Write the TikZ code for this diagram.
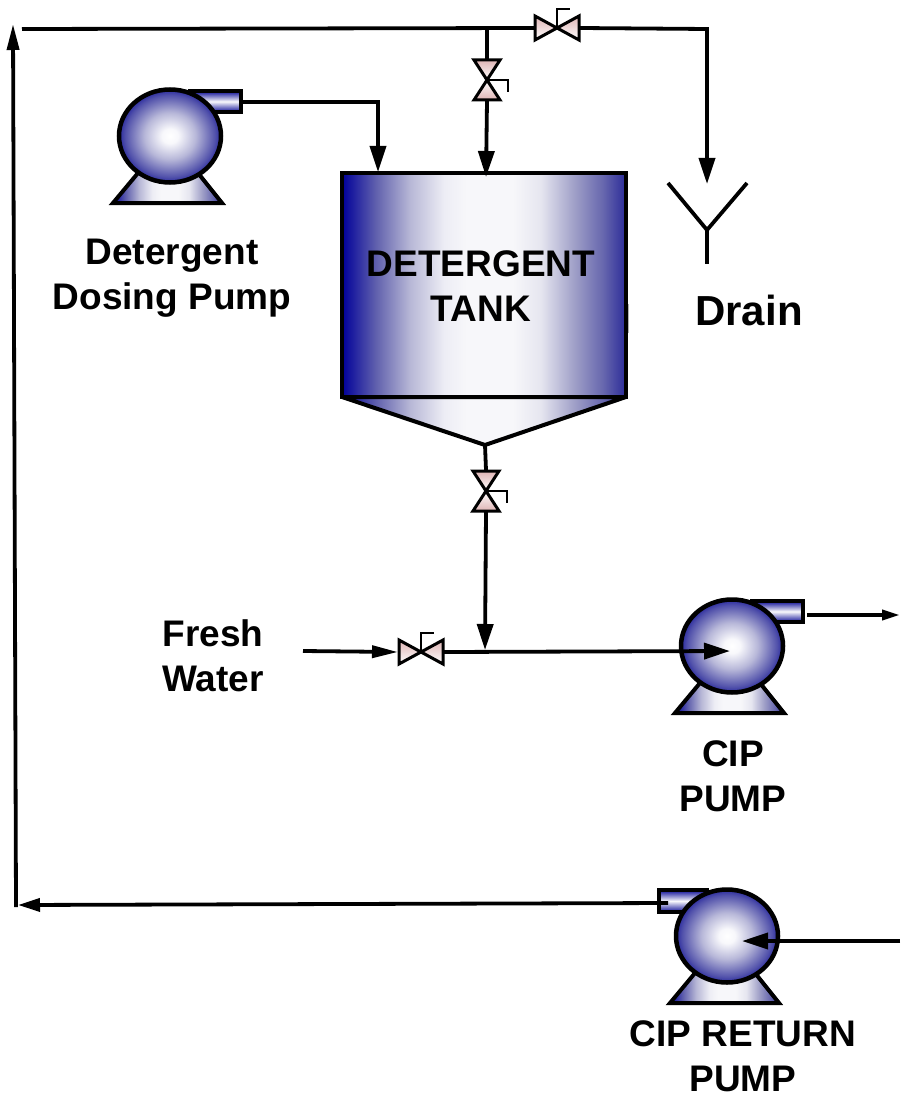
\documentclass[tikz,border=0pt]{standalone}
\usepackage{fontspec}
\setmainfont{Liberation Sans}
\usetikzlibrary{arrows.meta,shapes.geometric}
\definecolor{dblue}{RGB}{10,10,150}
\definecolor{vpink}{RGB}{222,180,180}
\definecolor{soft}{RGB}{248,248,252}
\pgfdeclareradialshading{ballshade}{\pgfpoint{0bp}{0bp}}{%
  rgb(0bp)=(1,1,1);rgb(4bp)=(0.97,0.97,0.985);rgb(12.5bp)=(0.72,0.72,0.85);rgb(22bp)=(0.32,0.32,0.67);rgb(25bp)=(0.16,0.16,0.62);rgb(50bp)=(0.16,0.16,0.62)}
\pgfdeclarehorizontalshading{tankshade}{100bp}{%
  rgb(0bp)=(0,0,0.6);rgb(25bp)=(0,0,0.6);rgb(31bp)=(0.38,0.38,0.68);rgb(37bp)=(0.72,0.72,0.84);rgb(43bp)=(0.93,0.93,0.96);rgb(47bp)=(0.97,0.97,0.98);rgb(55bp)=(0.97,0.97,0.98);rgb(60bp)=(0.90,0.90,0.94);rgb(66bp)=(0.62,0.62,0.78);rgb(71bp)=(0.40,0.40,0.68);rgb(75bp)=(0.17,0.17,0.60);rgb(100bp)=(0.17,0.17,0.60)}
\tikzset{
  x=1pt,y=-1pt,
  pipe/.style={line width=3.8pt,draw=black,line join=miter},
  bigarrow/.style={pipe,-{Triangle[length=26pt,width=16pt]}},
  midarrow/.style={pipe,-{Triangle[length=26pt,width=12pt]}},
  retarrow/.style={pipe,-{Triangle[length=22pt,width=13pt]}},
  smallarrow/.style={pipe,-{Triangle[length=18pt,width=10pt]}},
  hshade/.style={shade,shading=tankshade},
  vshade/.style={top color=dblue,bottom color=dblue,middle color=soft},
  outline/.style={draw=black,line width=4pt,line join=miter},
  ball/.style={ellipse,draw=black,line width=4.5pt,minimum width=102pt,minimum height=93pt,inner sep=0pt,shade,shading=ballshade},
  vbody/.style={draw=black,line width=3pt,line join=miter},
  vstem/.style={draw=black,line width=2pt},
  ghost/.style={inner sep=0pt,outer sep=0pt,draw=none},
  lbl/.style={font=\bfseries\fontsize{37}{45}\selectfont,align=center,inner sep=0pt,text=black},
}
% name, x, y, outlet side (1 right, -1 left)
\newcommand{\pumpshape}[4]{%
  \begin{scope}[shift={(#2,#3)}]
    \draw[outline,hshade] (-57,67) -- (-32,37) -- (28,37) -- (52,67) -- cycle;
    \ifnum#4>0
      \draw[outline,line width=3.4pt,vshade] (20,-45) rectangle (71,-24);
      \coordinate (#1-out) at (73,-34);
    \else
      \draw[outline,line width=3.4pt,vshade] (-68,-46) rectangle (-20,-24);
      \coordinate (#1-out) at (-59,-33);
    \fi
    \node[ball] (#1) at (0,0) {};
  \end{scope}}
% name, x, y
\newcommand{\hvalve}[3]{%
  \node[ghost,minimum width=46pt,minimum height=26pt] (#1) at (#2,#3) {};
  \begin{scope}[shift={(#2,#3)}]
    \draw[vstem] (0,0) -- (0,-19) -- (13,-19);
    \draw[vbody,top color=vpink,bottom color=white] (-22,-12) -- (0,0) -- (-22,12) -- cycle;
    \draw[vbody,top color=vpink,bottom color=white] (22,-12) -- (0,0) -- (22,12) -- cycle;
  \end{scope}}
\newcommand{\vvalve}[3]{%
  \node[ghost,minimum width=28pt,minimum height=42pt] (#1) at (#2,#3) {};
  \begin{scope}[shift={(#2,#3)}]
    \draw[vstem] (0,0) -- (21,0) -- (21,12);
    \draw[vbody,top color=vpink,bottom color=white] (-13,-20) -- (13,-20) -- (0,0) -- cycle;
    \draw[vbody,top color=white,bottom color=vpink] (-13,20) -- (13,20) -- (0,0) -- cycle;
  \end{scope}}
\begin{document}
\begin{tikzpicture}
\useasboundingbox (0,0) rectangle (900,1094);
% tank
\draw[outline,hshade,line join=round] (342,397) -- (626,397) -- (485,445) -- cycle;
\node[rectangle,draw=black,line width=4pt,minimum width=284pt,minimum height=224pt,inner sep=0pt,hshade] (tank) at (484,285) {};
\draw[gray!60,line width=1pt] (628.5,304) -- (628.5,333);
\coordinate (tanktip) at (485,445);
\coordinate (tankA) at (378,172);
\coordinate (tankB) at (486,177);
% pumps
\pumpshape{dose}{170}{136}{1}
\pumpshape{cip}{732}{646}{1}
\pumpshape{ret}{727}{936}{-1}
% valves
\hvalve{vtop}{557}{28}
\vvalve{vtank}{487}{80}
\vvalve{vbot}{486}{491}
\hvalve{vwater}{421}{652}
% free ends
\coordinate (topL) at (22,29);
\coordinate (teeTop) at (487,29);
\coordinate (cornerR) at (707,29);
\coordinate (drainIn) at (707,184);
\coordinate (drainJ) at (707,230);
\coordinate (drainL) at (668,183);
\coordinate (drainR) at (747,183);
\coordinate (drainS) at (707,264);
\coordinate (leftB) at (16,907);
\coordinate (leftT) at (13,24);
\coordinate (retEnd) at (18,905);
\coordinate (teeLow) at (485,650);
\coordinate (waterIn) at (303,651);
\coordinate (cipArrow) at (730,651);
\coordinate (cipExit) at (900,615);
\coordinate (retIn) at (900,941);
\coordinate (retArrow) at (742,941);
\coordinate (cipOutStart) at (807,615);
% pipes
\draw[pipe] (topL) -- (vtop.west);
\draw[bigarrow] (vtop.east) -- (cornerR) -- (drainIn);
\draw[pipe] (teeTop) -- (vtank.north);
\draw[bigarrow] (vtank.south) -- (tankB);
\draw[bigarrow] (dose-out) -| (tankA);
\draw[pipe] (tanktip) -- (vbot.north);
\draw[bigarrow] (vbot.south) -- (teeLow);
\draw[midarrow] (waterIn) -- (vwater.west);
\draw[bigarrow] (vwater.east) -- (cipArrow);
\draw[smallarrow] (cipOutStart) -- (cipExit);
\draw[bigarrow] (retIn) -- (retArrow);
\draw[retarrow] (ret-out) -- (retEnd);
\draw[midarrow] (leftB) -- (leftT);
% drain
\draw[pipe] (drainL) -- (drainJ) -- (drainR);
\draw[pipe] (drainJ) -- (drainS);
% labels
\node[lbl] (ldose) at (172,278) {Detergent\\Dosing Pump};
\node[lbl] (ltank) at (481,286) {DETERGENT\\TANK};
\node[lbl,font=\bfseries\fontsize{42}{45}\selectfont] (ldrain) at (749,310) {Drain};
\node[lbl] (lwater) at (213,656) {Fresh\\Water};
\node[lbl] (lcip) at (733,776) {CIP\\PUMP};
\node[lbl] (lret) at (743,1056) {CIP RETURN\\PUMP};
\end{tikzpicture}
\end{document}
